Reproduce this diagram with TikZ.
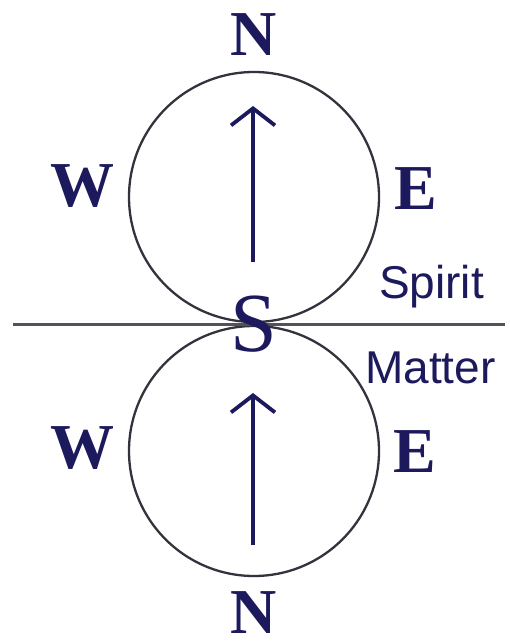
\documentclass[tikz,border=0pt]{standalone}
\usepackage{fontspec}
\setmainfont{Liberation Serif}
\newfontfamily\labelsans{Liberation Sans}
\usetikzlibrary{arrows.meta}
\definecolor{ink}{HTML}{1C1A5C}
\definecolor{rim}{HTML}{33333D}
\tikzset{
  dirlabel/.style={anchor=base, inner sep=0pt, text=ink, font=\fontsize{64}{64}\selectfont\bfseries},
  realm/.style={anchor=base west, inner sep=0pt, text=ink, font=\labelsans\fontsize{46}{46}\selectfont},
  orb/.style={circle, draw=rim, line width=2.3pt, minimum size=250pt, inner sep=0pt},
  upward/.style={draw=ink, line width=3.4pt, -{Straight Barb[length=17pt,width=44pt,line width=3.8pt]}}
}
\begin{document}
\begin{tikzpicture}[x=1pt,y=-1pt]
\useasboundingbox (0,0) rectangle (509,644);
\node[orb] (top) at (254,197) {};
\node[orb] (bot) at (254,451) {};
\coordinate (west) at (13,324);
\coordinate (east) at (505,324);
\draw[rim!85, line width=3pt] (west) -- (east);
\node[anchor=base, inner sep=0pt, text=ink, font=\fontsize{84}{84}\selectfont] (s) at (254,351) {S};
\coordinate (a1s) at (253,262);
\coordinate (a1e) at (253,106);
\coordinate (a2s) at (253,545);
\coordinate (a2e) at (253,393);
\draw[upward] (a1s) -- (a1e);
\draw[upward] (a2s) -- (a2e);
\node[dirlabel] (n1) at (253.5,56) {N};
\node[dirlabel] (n2) at (253.5,633) {N};
\node[dirlabel] (w1) at (82,207) {W};
\node[dirlabel] (w2) at (82,468) {W};
\node[dirlabel] (e1) at (416,210) {E};
\node[dirlabel] (e2) at (415,472) {E};
\node[realm] (spirit) at (379,298) {Spirit};
\node[realm] (matter) at (365,383) {Matter};
\end{tikzpicture}
\end{document}
